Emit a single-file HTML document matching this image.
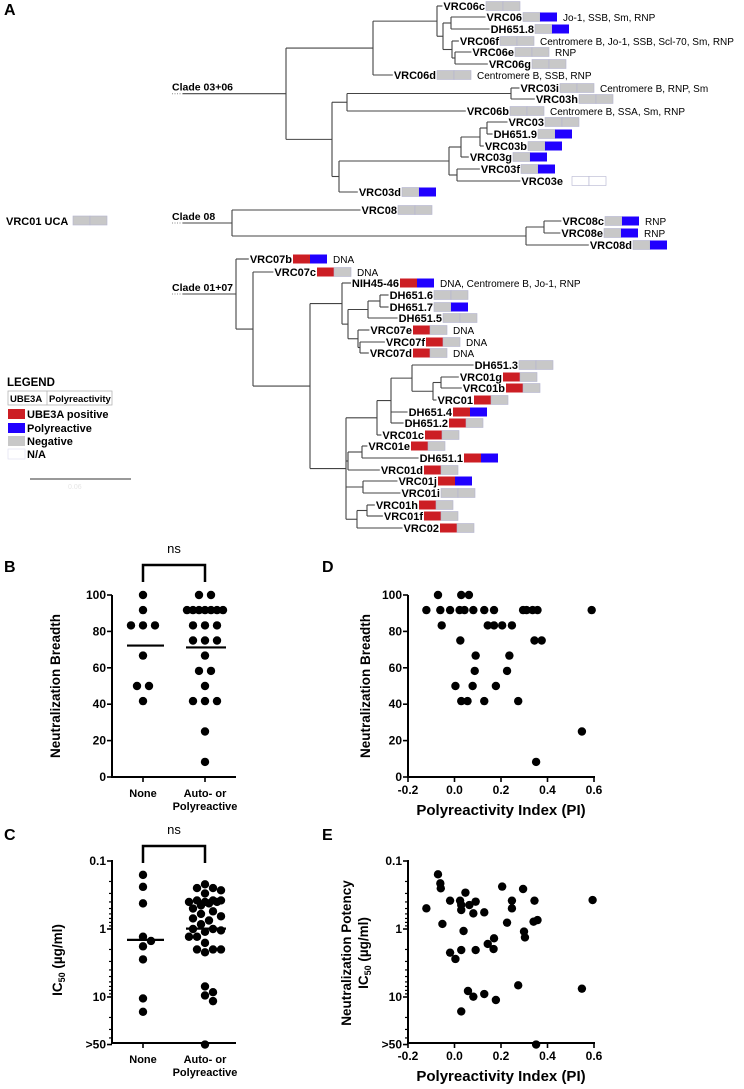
<!DOCTYPE html>
<html><head><meta charset="utf-8"><style>
html,body{margin:0;padding:0;background:#fff;}
svg{display:block;font-family:"Liberation Sans",Arial,sans-serif;}
.lf{font-weight:bold;font-size:11px;}
.nt{font-size:10px;}
.tk{font-family:"Liberation Sans Narrow","Liberation Sans",sans-serif;font-weight:bold;font-size:12px;}
.ttl{font-weight:bold;font-size:13.5px;}
.pl{font-weight:bold;font-size:16px;}
</style></head><body>
<svg id="fig" width="744" height="1089" viewBox="0 0 744 1089" xmlns="http://www.w3.org/2000/svg">
<text class="pl" x="4" y="15">A</text>
<text class="pl" x="4" y="572">B</text>
<text class="pl" x="322" y="572">D</text>
<text class="pl" x="4" y="840">C</text>
<text class="pl" x="322" y="840">E</text>
<g id="tree"></g>
<g id="legend">
<text class="lf" x="6" y="225">VRC01 UCA</text>
<rect x="73" y="216" width="17" height="9" fill="#c8c8c8" stroke="#b4b4d0" stroke-width="0.6"/>
<rect x="90" y="216" width="17" height="9" fill="#c8c8c8" stroke="#b4b4d0" stroke-width="0.6"/>
<text class="lf" x="7" y="386" style="font-size:11.5px">LEGEND</text>
<rect x="8" y="391" width="104" height="14" fill="#fff" stroke="#aaa" stroke-width="0.7"/>
<line x1="47" y1="391" x2="47" y2="405" stroke="#aaa" stroke-width="0.7"/>
<text x="10" y="402" style="font-size:9.5px;font-weight:bold">UBE3A</text>
<text x="49" y="402" style="font-size:9.5px;font-weight:bold">Polyreactivity</text>
<rect x="8" y="409" width="17" height="10" fill="#cc1e24"/><text class="lf" x="27" y="418">UBE3A positive</text>
<rect x="8" y="423" width="17" height="10" fill="#2000ff"/><text class="lf" x="27" y="432">Polyreactive</text>
<rect x="8" y="436" width="17" height="10" fill="#c8c8c8"/><text class="lf" x="27" y="445">Negative</text>
<rect x="8" y="449" width="17" height="10" fill="#fff" stroke="#dde" stroke-width="0.6"/><text class="lf" x="27" y="458">N/A</text>
<line x1="30" y1="479" x2="131" y2="479" stroke="#333" stroke-width="1"/>
<text x="68" y="489" style="font-size:7px;fill:#e6e6e6">0.06</text>
</g>
<g id="charts"></g>
</svg>
<script>
// ---------- Panel B data ----------
const bNone = [100,91.7,83.3,83.3,83.3,66.7,50,50,41.7];
const bAuto = [100,100,91.7,91.7,91.7,91.7,91.7,91.7,91.7,83.3,83.3,83.3,75,75,75,66.7,58.3,58.3,50,41.7,41.7,41.7,25,8.3];
const bTicks = [0,20,40,60,80,100];
// ---------- Panel C data ----------
const cNone = [0.16,0.24,0.42,1.3,1.5,1.8,2.8,10.5,16.5];
const cAuto = [0.22,0.25,0.25,0.27,0.3,0.38,0.38,0.38,0.4,0.4,0.4,0.42,0.45,0.5,0.55,0.6,0.65,0.7,0.75,0.85,1.0,1.0,1.05,1.1,1.3,1.3,1.6,2.0,2.0,2.0,2.2,7.0,8.5,9.5,11.5,50];
const cTicks = [0.1,1,10,50];
const cTickLabels = ["0.1","1","10",">50"];
const catLabels = [["None"],["Auto- or","Polyreactive"]];
// ---------- Panel D data ----------
const dPI = [-0.071,-0.121,-0.061,-0.055,-0.019,0.029,0.062,0.022,0.043,0.081,0.128,0.17,0.143,0.17,0.205,0.247,0.295,0.31,0.336,0.357,0.59,0.025,0.344,0.375,0.091,0.236,0.087,0.226,0.004,0.078,0.178,0.029,0.056,0.128,0.274,0.548,0.351];
const dBreadth = [100,91.7,91.7,83.3,91.7,100,100,91.7,91.7,91.7,91.7,91.7,83.3,83.3,83.3,83.3,91.7,91.7,91.7,91.7,91.7,75,75,75,66.7,66.7,58.3,58.3,50,50,50,41.7,41.7,41.7,41.7,25,8.3];
// ---------- Panel E data ----------
const ePI = [-0.071,-0.061,-0.059,-0.121,-0.052,-0.019,0.047,0.024,0.029,0.029,0.064,0.091,0.081,0.128,0.039,0.205,0.295,0.226,0.247,0.247,0.299,0.303,0.344,0.340,0.357,0.594,0.170,0.143,0.168,0.029,0.091,-0.019,0.004,0.274,0.058,0.081,0.128,0.178,0.029,0.548,0.351];
const eIC50 = [0.157,0.213,0.252,0.497,0.843,0.383,0.292,0.383,0.444,0.526,0.444,0.396,0.589,0.569,1.07,0.238,0.258,0.807,0.497,0.383,1.09,1.33,0.383,0.78,0.74,0.375,1.37,1.66,1.97,2.04,2.04,2.23,2.76,6.73,8.16,9.89,9.04,11.07,16.3,7.54,50];
const piTicks = [-0.2,0,0.2,0.4,0.6];
const piTickLabels = ["-0.2","0.0","0.2","0.4","0.6"];

const NS="http://www.w3.org/2000/svg";
function mk(tag,attrs,parent,txt){const e=document.createElementNS(NS,tag);for(const k in attrs)e.setAttribute(k,attrs[k]);if(txt!==undefined)e.textContent=txt;(parent||document.getElementById('charts')).appendChild(e);return e;}

// ---------- Tree ----------
const leaves = [
["VRC06c",6,485,"gg",""],["VRC06",17,522,"gb","Jo-1, SSB, Sm, RNP"],["DH651.8",29,534,"gb",""],
["VRC06f",41,499,"gg","Centromere B, Jo-1, SSB, Scl-70, Sm, RNP"],["VRC06e",52,514,"gg","RNP"],["VRC06g",64,531,"gg",""],
["VRC06d",75,436,"gg","Centromere B, SSB, RNP"],["VRC03i",88,559,"gg","Centromere B, RNP, Sm"],["VRC03h",99,578,"gg",""],
["VRC06b",111,509,"gg","Centromere B, SSA, Sm, RNP"],["VRC03",122,544,"gg",""],["DH651.9",134,537,"gb",""],
["VRC03b",146,527,"gb",""],["VRC03g",157,512,"gb",""],["VRC03f",169,520,"gb",""],["VRC03e",181,563,"nn",""],
["VRC03d",192,401,"gb",""],["VRC08",210,397,"gg",""],["VRC08c",221,604,"gb","RNP"],["VRC08e",233,603,"gb","RNP"],
["VRC08d",245,632,"gb",""],["VRC07b",259,292,"rb","DNA"],["VRC07c",272,316,"rg","DNA"],
["NIH45-46",283,399,"rb","DNA, Centromere B, Jo-1, RNP"],["DH651.6",295,433,"gg",""],["DH651.7",307,433,"gb",""],
["DH651.5",318,442,"gg",""],["VRC07e",330,412,"rg","DNA"],["VRC07f",342,425,"rg","DNA"],["VRC07d",353,412,"rg","DNA"],
["DH651.3",365,518,"gg",""],["VRC01g",377,502,"rg",""],["VRC01b",388,505,"rg",""],["VRC01",400,473,"rg",""],
["DH651.4",412,452,"rb",""],["DH651.2",423,448,"rg",""],["VRC01c",435,424,"rg",""],["VRC01e",446,410,"rg",""],
["DH651.1",458,463,"rb",""],["VRC01d",470,423,"rg",""],["VRC01j",481,437,"rb",""],["VRC01i",493,440,"gg",""],
["VRC01h",505,418,"rg",""],["VRC01f",516,423,"rg",""],["VRC02",528,439,"rg",""]];
const c1={x:286,c:[{x:373,c:[{x:437,c:["VRC06c",{x:443,c:[{x:451,c:["VRC06","DH651.8"]},{x:452,c:["VRC06f",{x:455,c:["VRC06e","VRC06g"]}]}]}]},"VRC06d"]},{x:332,c:[{x:347,c:[{x:511,c:["VRC03i","VRC03h"]},"VRC06b"]},{x:339,c:[{x:449,c:[{x:461,c:[{x:480,c:[{x:487,c:["VRC03","DH651.9"]},"VRC03b"]},"VRC03g"]},{x:457,c:["VRC03f","VRC03e"]}]},"VRC03d"]}]}]};
const c8={x:232,c:["VRC08",{x:526,c:[{x:544,c:["VRC08c","VRC08e"]},"VRC08d"]}]};
const c17={x:236,c:["VRC07b",{x:253,c:["VRC07c",{x:310,c:[{x:342,c:["NIH45-46",{x:348,c:[{x:368,c:[{x:380,c:["DH651.6","DH651.7"]},"DH651.5"]},{x:358,c:["VRC07e",{x:360,c:["VRC07f","VRC07d"]}]}]}]},{x:346,c:[{x:377,c:[{x:391,c:[{x:412,c:["DH651.3",{x:433,c:[{x:441,c:["VRC01g","VRC01b"]},"VRC01"]}]},"DH651.4","DH651.2"]},"VRC01c"]},{x:348,c:[{x:362,c:["VRC01e","DH651.1"]},"VRC01d"]},{x:363,c:["VRC01j","VRC01i"]},{x:357,c:[{x:367,c:["VRC01h","VRC01f"]},"VRC02"]}]}]}]}]};

const tree=document.getElementById('tree');
const leafInfo={};
const col={r:"#cc1e24",b:"#2000ff",g:"#c8c8c8",n:"#ffffff"};
leaves.forEach(l=>{
  const t=mk('text',{class:'lf',x:l[2],y:l[1]+4,'text-anchor':'end'},tree,l[0]);
  
  
  let start=l[2]-t.getComputedTextLength();
  leafInfo[l[0]]={y:l[1],start:start};
  let bx=l[2]+1+(l[3]==="nn"?8:0);
  for(let i=0;i<2;i++){
    const r=mk('rect',{x:bx+i*17,y:l[1]-4.5,width:17,height:9,fill:col[l[3][i]],stroke:l[3][i]==="g"||l[3][i]==="n"?"#b4b4d0":"none","stroke-width":0.6},tree);
    
    
  }
  if(l[4]){const n=mk('text',{class:'nt',x:l[2]+41,y:l[1]+4},tree,l[4]);
    
    }
});
function line(x1,y1,x2,y2,p){return mk('line',{x1:x1,y1:y1,x2:x2,y2:y2,stroke:'#444','stroke-width':1.1},p||tree);}
function layout(n){
  if(typeof n==="string") return leafInfo[n].y;
  const ys=n.c.map(layout); n.y=(Math.min(...ys)+Math.max(...ys))/2; n.ys=ys; return n.y;}
function draw(n){
  line(n.x,Math.min(...n.ys),n.x,Math.max(...n.ys));
  n.c.forEach((ch,i)=>{
    if(typeof ch==="string"){ line(n.x,leafInfo[ch].y,leafInfo[ch].start-1,leafInfo[ch].y); }
    else { line(n.x,ch.y,ch.x,ch.y); draw(ch); }
  });
}
[[c1,"Clade 03+06"],[c8,"Clade 08"],[c17,"Clade 01+07"]].forEach(([c,name])=>{
  layout(c); draw(c);
  line(183,c.y,c.x,c.y);
  mk('line',{x1:172,y1:c.y,x2:183,y2:c.y,stroke:'#888','stroke-width':1,'stroke-dasharray':'1,1.5'},tree);
  const t=mk('text',{class:'lf',x:172,y:c.y-3,style:'font-size:10.5px'},tree,name);
  
  
});

// ---------- Charts ----------
const G=document.getElementById('charts');
const yLin=v=>777-v/100*182;
const yLog=v=>861+(Math.log10(v)+1)*68;
const xPI=v=>408+(v+0.2)/0.8*186;
function yAxis(x,ticks,labels,ys,y0,y1,minor){
  mk('line',{x1:x,y1:y0,x2:x,y2:y1,stroke:'#000','stroke-width':2});
  ticks.forEach((t,i)=>{mk('line',{x1:x-5,y1:ys(t),x2:x,y2:ys(t),stroke:'#000','stroke-width':1.6});
    const e=mk('text',{class:'tk',x:x-6,y:ys(t)+4,'text-anchor':'end'},G,labels[i]);
    
    });
  (minor||[]).forEach(t=>mk('line',{x1:x-3,y1:ys(t),x2:x,y2:ys(t),stroke:'#000','stroke-width':1.2}));
}
function xAxisPI(y){
  mk('line',{x1:407,y1:y,x2:595,y2:y,stroke:'#000','stroke-width':2});
  piTicks.forEach((t,i)=>{mk('line',{x1:xPI(t),y1:y,x2:xPI(t),y2:y+5,stroke:'#000','stroke-width':1.6});
    const e=mk('text',{class:'tk',x:xPI(t),y:y+17,'text-anchor':'middle'},G,piTickLabels[i]);
    
    });
  const e=mk('text',{class:'ttl',x:501,y:y+38,'text-anchor':'middle',style:'font-family:"Liberation Sans Narrow","Liberation Sans",sans-serif;font-size:15px'},G,'Polyreactivity Index (PI)');
  
  
}
function catAxis(y){
  mk('line',{x1:111,y1:y,x2:236,y2:y,stroke:'#000','stroke-width':2});
  [143,205].forEach((cx,i)=>{mk('line',{x1:cx,y1:y,x2:cx,y2:y+5,stroke:'#000','stroke-width':1.6});
    catLabels[i].forEach((s,j)=>{const e=mk('text',{class:'tk',x:cx,y:y+20+j*13,'text-anchor':'middle',style:'font-size:11px'},G,s);
      
      });});
}
function dot(x,y,name){const c=mk('circle',{cx:x,cy:y,r:4.2,fill:'#000'});
  
  }
function bracket(y,ytxt){mk('path',{d:`M143,${y+17} V${y} H205 V${y+17}`,fill:'none',stroke:'#000','stroke-width':2.5});
  const e=mk('text',{x:174,y:ytxt,'text-anchor':'middle',style:'font-family:"Liberation Sans Narrow","Liberation Sans",sans-serif;font-size:13px'},G,'ns');
  
  }
function rotTitle(x,y,lines){lines.forEach((s,i)=>{const e=mk('text',{class:'ttl',x:0,y:0,'text-anchor':'middle',transform:`translate(${x+i*17},${y}) rotate(-90)`},G);
  
  
  if(s.indexOf('IC50')===0){e.appendChild(document.createTextNode('IC'));mk('tspan',{'font-size':'9','dy':'3'},e,'50');mk('tspan',{dy:'-3'},e,'  (µg/ml)');}else e.textContent=s;});}
function strip(vals,cx,ys){
  const groups={};vals.forEach(v=>{(groups[v]=groups[v]||[]).push(v);});
  Object.keys(groups).forEach(k=>{const n=groups[k].length;const sp=n>4?36/(n-1):12;
    groups[k].forEach((v,i)=>dot(cx+(i-(n-1)/2)*sp,ys(v),'strip-point'));});
}
// compact beeswarm limited to +/- maxOff
function swarm(vals,cx,ys,maxOff){
  const placed=[];const offs=[];for(let o=0;o<=maxOff;o+=4){offs.push(o);if(o)offs.push(-o);}
  vals.slice().sort((a,b)=>a-b).forEach(v=>{const y=ys(v);let best=null,bd=-1;
    for(const off of offs){const x=cx+off;const d=placed.length?Math.min(...placed.map(p=>Math.hypot(p[0]-x,p[1]-y))):99;
      if(d>=8.5){best=x;bd=99;break;} if(d>bd){bd=d;best=x;}}
    placed.push([best,y]);dot(best,y,'strip-point');});
}
const mean=a=>a.reduce((s,v)=>s+v,0)/a.length;
const geomean=a=>Math.pow(10,mean(a.map(v=>Math.log10(v))));
// Panel B
yAxis(112,bTicks,bTicks.map(String),yLin,595,778);
catAxis(777);
rotTitle(60,686,["Neutralization Breadth"]);
bracket(565,553);
strip(bNone,143,yLin);strip(bAuto,205,yLin);
mk('line',{x1:127,x2:164,y1:yLin(mean(bNone)),y2:yLin(mean(bNone)),stroke:'#000','stroke-width':2.2});
mk('line',{x1:186,x2:226,y1:yLin(mean(bAuto)),y2:yLin(mean(bAuto)),stroke:'#000','stroke-width':2.2});
// Panel D
yAxis(408,bTicks,bTicks.map(String),yLin,595,778);
xAxisPI(777);
rotTitle(370,686,["Neutralization Breadth"]);
dPI.forEach((p,i)=>dot(xPI(p),yLin(dBreadth[i]),'scatter-point'));
// Panel C
const minorLog=[0.2,0.3,0.4,0.5,0.6,0.7,0.8,0.9,2,3,4,5,6,7,8,9,20,30,40];
yAxis(112,cTicks,cTickLabels,yLog,860,1044,minorLog);
catAxis(1043);
rotTitle(62,960,["IC50"]);
bracket(846,834);
swarm(cNone,143,yLog,8);swarm(cAuto,205,yLog,18);
mk('line',{x1:127,x2:164,y1:yLog(geomean(cNone)),y2:yLog(geomean(cNone)),stroke:'#000','stroke-width':2.2});
mk('line',{x1:186,x2:226,y1:yLog(geomean(cAuto)),y2:yLog(geomean(cAuto)),stroke:'#000','stroke-width':2.2});
// Panel E
yAxis(408,cTicks,cTickLabels,yLog,860,1044,minorLog);
xAxisPI(1043);
rotTitle(351,953,["Neutralization Potency","IC50"]);
ePI.forEach((p,i)=>dot(xPI(p),yLog(eIC50[i]),'scatter-point'));
</script>
</body></html>
